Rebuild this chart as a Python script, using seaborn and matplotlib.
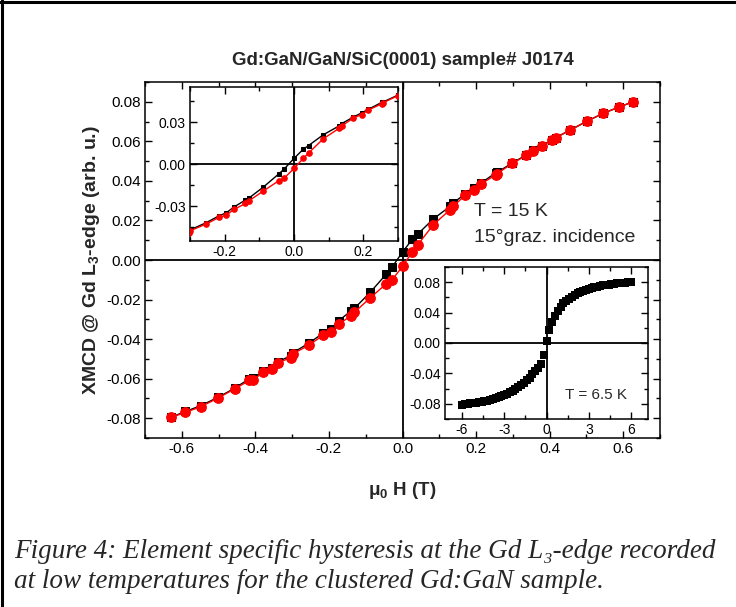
import numpy as np
import pandas as pd
import matplotlib
matplotlib.use("Agg")
import matplotlib.pyplot as plt
import seaborn as sns
from matplotlib.ticker import MultipleLocator, FormatStrFormatter
from matplotlib.lines import Line2D

# ---- data ----
field = [-0.629, -0.590, -0.548, -0.502, -0.456, -0.416, -0.406, -0.378, -0.356, -0.339,
         -0.304, -0.299, -0.254, -0.216, -0.195, -0.173, -0.140, -0.131, -0.088, -0.044,
         -0.028, 0.000, 0.027, 0.042, 0.084, 0.130, 0.138, 0.171, 0.195, 0.214,
         0.253, 0.257, 0.299, 0.337, 0.355, 0.378, 0.407, 0.416, 0.456, 0.501,
         0.545, 0.588, 0.627]
xmcd_black = [-0.0795, -0.0766, -0.0736, -0.0695, -0.0648, -0.0600, -0.0597, -0.0562, -0.0545, -0.0515,
              -0.0484, -0.0470, -0.0420, -0.0370, -0.0348, -0.0307, -0.0257, -0.0245, -0.0164, -0.0071,
              -0.0035, 0.0040, 0.0106, 0.0132, 0.0208, 0.0272, 0.0289, 0.0335, 0.0365, 0.0390,
              0.0440, 0.0443, 0.0491, 0.0532, 0.0555, 0.0578, 0.0607, 0.0618, 0.0657, 0.0701,
              0.0741, 0.0773, 0.0800]
xmcd_red = [-0.0795, -0.0771, -0.0741, -0.0699, -0.0651, -0.0609, -0.0606, -0.0567, -0.0550, -0.0521,
            -0.0493, -0.0476, -0.0430, -0.0381, -0.0365, -0.0324, -0.0282, -0.0265, -0.0192, -0.0120,
            -0.0100, -0.0032, 0.0041, 0.0078, 0.0179, 0.0255, 0.0272, 0.0328, 0.0353, 0.0385,
            0.0430, 0.0437, 0.0488, 0.0530, 0.0553, 0.0576, 0.0606, 0.0618, 0.0657, 0.0702,
            0.0741, 0.0773, 0.0800]

field_65K = [-6.0, -5.8, -5.6, -5.4, -5.2, -5.0, -4.8, -4.6, -4.4, -4.2, -4.0, -3.8, -3.6, -3.4,
             -3.2, -3.0, -2.8, -2.6, -2.4, -2.2, -2.0, -1.8, -1.6, -1.4, -1.2, -1.0, -0.8, -0.6,
             -0.4, -0.2, 0.0, 0.2, 0.4, 0.6, 0.8, 1.0, 1.2, 1.4, 1.6, 1.8, 2.0, 2.2, 2.4, 2.6,
             2.8, 3.0, 3.2, 3.4, 3.6, 3.8, 4.0, 4.2, 4.4, 4.6, 4.8, 5.0, 5.2, 5.4, 5.6, 5.8, 6.0]
xmcd_65K = [-0.0810, -0.0805, -0.0800, -0.0795, -0.0790, -0.0785, -0.0780, -0.0774, -0.0767, -0.0758,
            -0.0748, -0.0737, -0.0725, -0.0712, -0.0700, -0.0686, -0.0668, -0.0648, -0.0625, -0.0600,
            -0.0578, -0.0552, -0.0522, -0.0490, -0.0455, -0.0412, -0.0370, -0.0330, -0.0270, -0.0160,
            0.0020, 0.0170, 0.0280, 0.0360, 0.0420, 0.0475, 0.0520, 0.0555, 0.0585, 0.0610,
            0.0635, 0.0655, 0.0672, 0.0688, 0.0703, 0.0715, 0.0725, 0.0735, 0.0743, 0.0750,
            0.0757, 0.0763, 0.0768, 0.0773, 0.0778, 0.0783, 0.0787, 0.0791, 0.0795, 0.0798, 0.0802]

title = "Gd:GaN/GaN/SiC(0001) sample# J0174"
caption1 = "Figure 4: Element specific hysteresis at the Gd L\u2083-edge recorded"
caption2 = "at low temperatures for the clustered Gd:GaN sample."

# ---- style ----
sns.set_style("ticks")
plt.rcParams['font.family'] = ['Liberation Sans', 'DejaVu Sans']
plt.rcParams['mathtext.fontset'] = 'custom'
plt.rcParams['mathtext.rm'] = 'Liberation Sans'
plt.rcParams['mathtext.it'] = 'Liberation Sans:italic'
plt.rcParams['mathtext.bf'] = 'Liberation Sans:bold'
plt.rcParams['axes.linewidth'] = 1.1

df = pd.DataFrame({'H': field, 'black': xmcd_black, 'red': xmcd_red})
df65 = pd.DataFrame({'H': field_65K, 'M': xmcd_65K})

fig = plt.figure(figsize=(7.36, 6.07), dpi=100)
W, Hf = 736.0, 607.0


def px_axes(l, t, r, b):
    return fig.add_axes([l / W, 1 - b / Hf, (r - l) / W, (b - t) / Hf])


def style_axes(a, xmaj, xmin, ymaj, ymin, fmtx, fmty, fs):
    a.xaxis.set_major_locator(MultipleLocator(xmaj))
    a.xaxis.set_minor_locator(MultipleLocator(xmin))
    a.yaxis.set_major_locator(MultipleLocator(ymaj))
    a.yaxis.set_minor_locator(MultipleLocator(ymin))
    a.xaxis.set_major_formatter(FormatStrFormatter(fmtx))
    a.yaxis.set_major_formatter(FormatStrFormatter(fmty))
    a.tick_params(which='both', direction='in', top=True, right=True,
                  labelsize=fs, colors='black', width=1.0, pad=3)
    a.tick_params(which='major', length=5)
    a.tick_params(which='minor', length=3)
    for s in a.spines.values():
        s.set_visible(True)
        s.set_color('black')
        s.set_linewidth(1.1)
    a.axhline(0, color='black', lw=1.3, zorder=1)
    a.axvline(0, color='black', lw=1.3, zorder=1)
    a.set_xlabel('')
    a.set_ylabel('')


# ---- main axes ----
ax = px_axes(145, 82, 660, 438)
sns.lineplot(data=df, x='H', y='black', ax=ax, color='black', lw=1.0, sort=True,
             estimator=None, marker='s', markersize=6, markeredgecolor='black',
             markerfacecolor='black', zorder=3)
sns.lineplot(data=df, x='H', y='red', ax=ax, color='red', lw=1.0, sort=True,
             estimator=None, marker='o', markersize=7, markeredgecolor='red',
             markerfacecolor='red', zorder=4)
ax.set_xlim(-0.7, 0.7)
ax.set_ylim(-0.09, 0.09)
style_axes(ax, 0.2, 0.1, 0.02, 0.01, '%.1f', '%.2f', 11)
ax.set_xlabel("\u03bc$_\\mathbf{0}$ H (T)", fontsize=13.5, fontweight='bold', labelpad=17)
ax.set_ylabel("XMCD @ Gd L$_\\mathbf{3}$-edge (arb. u.)", fontsize=14,
              fontweight='bold', labelpad=3)
ax.set_title(title, fontsize=13.5, fontweight='bold', pad=12)
ax.text(0.195, 0.0245, "T = 15 K", fontsize=14, va='center', ha='left')
ax.text(0.195, 0.0115, "15\u00b0graz. incidence", fontsize=14, va='center', ha='left')

# ---- inset 1 (zoom near zero) ----
ax1 = px_axes(190, 87, 398, 241)
ax1.set_facecolor('white')
sns.lineplot(data=df, x='H', y='black', ax=ax1, color='black', lw=1.0, sort=True,
             estimator=None, marker='s', markersize=3.2, markeredgecolor='black',
             markerfacecolor='black', zorder=3)
sns.lineplot(data=df, x='H', y='red', ax=ax1, color='red', lw=1.0, sort=True,
             estimator=None, marker='o', markersize=4.0, markeredgecolor='red',
             markerfacecolor='red', zorder=4)
ax1.set_xlim(-0.3, 0.3)
ax1.set_ylim(-0.055, 0.055)
style_axes(ax1, 0.2, 0.1, 0.03, 0.015, '%.1f', '%.2f', 10)

# ---- inset 2 (T = 6.5 K) ----
ax2 = px_axes(445, 267, 648, 419)
ax2.set_facecolor('white')
sns.scatterplot(data=df65, x='H', y='M', ax=ax2, color='black', marker='s', s=30,
                edgecolor='black', linewidth=0, zorder=3)
ax2.set_xlim(-7.2, 7.2)
ax2.set_ylim(-0.1, 0.1)
style_axes(ax2, 3, 1.5, 0.04, 0.02, '%d', '%.2f', 10)
ax2.text(1.3, -0.068, "T = 6.5 K", fontsize=11, va='center', ha='left')

# ---- caption ----
fig.text(14 / W, 1 - 552 / Hf, caption1, fontsize=19.5, style='italic',
         family=['Liberation Serif', 'DejaVu Serif'], va='center', ha='left')
fig.text(14 / W, 1 - 581 / Hf, caption2, fontsize=19.5, style='italic',
         family=['Liberation Serif', 'DejaVu Serif'], va='center', ha='left')

# ---- figure frame (top and left) ----
fig.add_artist(Line2D([0, 1], [1 - 2 / Hf, 1 - 2 / Hf], transform=fig.transFigure,
                      color='black', lw=2.2))
fig.add_artist(Line2D([2 / W, 2 / W], [0, 1], transform=fig.transFigure,
                      color='black', lw=2.2))

fig.savefig("out.png", dpi=100)
